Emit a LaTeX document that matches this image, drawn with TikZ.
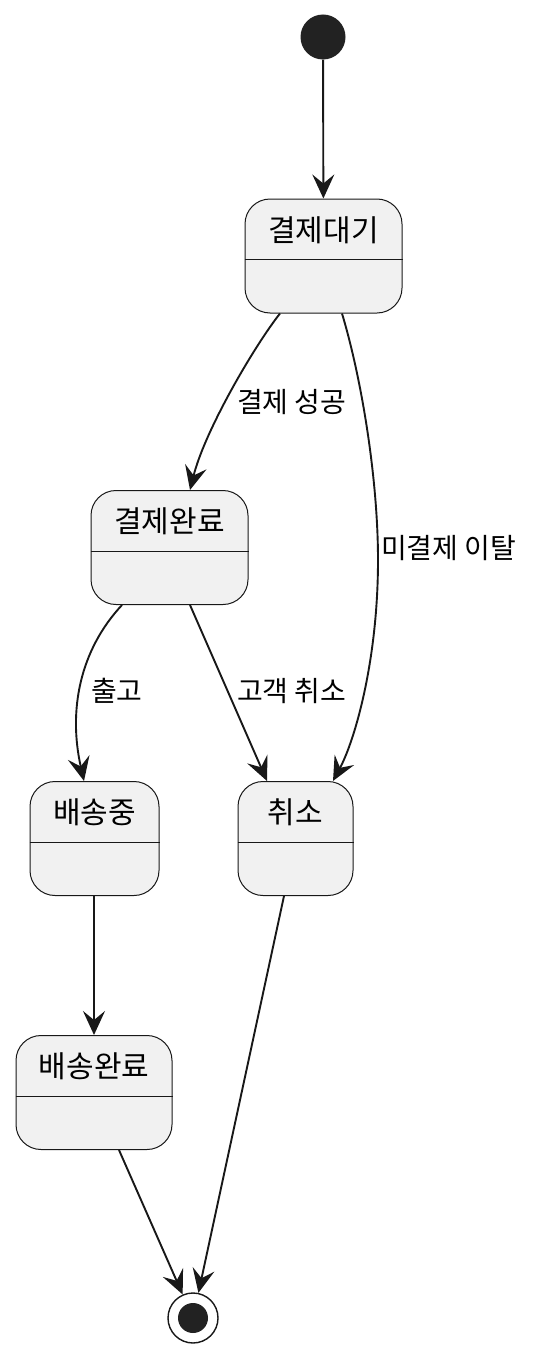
\documentclass[tikz,border=0pt]{standalone}
\usepackage{fontspec}
\setmainfont{Noto Sans CJK KR}
\usepackage{tikz}
\usetikzlibrary{arrows.meta}

\definecolor{stfill}{HTML}{F1F1F1}
\definecolor{stline}{HTML}{181818}
\definecolor{dot}{HTML}{222222}

\tikzset{
  state/.style={draw=stline, fill=stfill, line width=1pt, rounded corners=25pt,
    minimum height=114pt, inner ysep=0pt, inner xsep=0pt,
    text height=42pt, text depth=72pt, font=\fontsize{30}{34}\selectfont},
  trans/.style={line width=1.9pt, stline,
    -{Stealth[length=24pt, width=22pt, inset=9pt]}},
  lbl/.style={anchor=west, inner sep=0pt, font=\fontsize{28}{32}\selectfont}
}

\begin{document}
\begin{tikzpicture}[x=1pt, y=-1pt]

  \useasboundingbox (0,0) rectangle (551,1370);

  % Start and end points
  \node[circle, fill=dot, minimum size=45pt, inner sep=0pt] (start) at (323,37) {};
  \node[circle, draw=stline, line width=1.4pt, fill=white, minimum size=50pt, inner sep=0pt] (end) at (193,1318) {};
  \fill[dot] (end) circle (15pt);

  % States
  \node[state, minimum width=157pt] (wait)   at (323.5,256)  {결제대기};
  \node[state, minimum width=157pt] (paid)   at (169.5,547.5) {결제완료};
  \node[state, minimum width=129pt] (ship)   at (94.5,838.5)  {배송중};
  \node[state, minimum width=115pt] (cancel) at (295.5,838.5) {취소};
  \node[state, minimum width=156pt] (done)   at (94,1092.5)   {배송완료};

  % Dividers
  \foreach \s in {wait, paid, ship, cancel, done}
    \draw[stline, line width=1pt] ([yshift=-61pt]\s.north west) -- ([yshift=-61pt]\s.north east);

  % Transitions
  \draw[trans] (start) -- (wait);
  \draw[trans] ([xshift=-43.5pt]wait.south) .. controls (255,345) and (205,430) .. ([xshift=20.5pt]paid.north);
  \draw[trans] ([xshift=18.5pt]wait.south) .. controls (362,380) and (378,480) .. (378,560)
    .. controls (378,660) and (355,740) .. ([xshift=37.5pt]cancel.north);
  \draw[trans] ([xshift=-47.5pt]paid.south) .. controls (80,650) and (68,710) .. ([xshift=-10.5pt]ship.north);
  \draw[trans] ([xshift=20.5pt]paid.south) -- ([xshift=-28.5pt]cancel.north);
  \draw[trans] ([xshift=-0.5pt]ship.south) -- (done.north);
  \draw[trans] ([xshift=25pt]done.south) -- (end);
  \draw[trans] ([xshift=-11.5pt]cancel.south) -- (end);

  % Transition labels
  \node[lbl] (l1) at (237,402) {결제 성공};
  \node[lbl] (l2) at (381,548) {미결제 이탈};
  \node[lbl] (l3) at (91,691)  {출고};
  \node[lbl] (l4) at (237,691) {고객 취소};

\end{tikzpicture}
\end{document}
